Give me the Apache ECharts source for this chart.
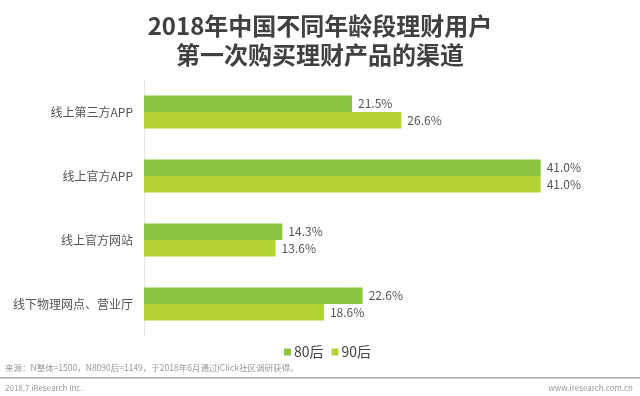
<!DOCTYPE html>
<html>
<head>
<meta charset="utf-8">
<script src="https://cdn.jsdelivr.net/npm/echarts@6/dist/echarts.min.js"></script>
<style>
  html, body { margin: 0; padding: 0; background: #fff; }
  #main { width: 640px; height: 396px; }
</style>
</head>
<body>
<div id="main"></div>
<script>
// 渠道分类
const categories = ["线上第三方APP", "线上官方APP", "线上官方网站", "线下物理网点、营业厅"];
// 80后 / 90后 占比 (%)
const values80 = [21.5, 41.0, 14.3, 22.6];
const values90 = [26.6, 41.0, 13.6, 18.6];
const seriesNames = ["80后", "90后"];

const myChart = echarts.init(document.getElementById("main"));
const font = "'Noto Sans CJK SC', 'Noto Sans', sans-serif";

const option = {
  backgroundColor: "#fff",
  textStyle: { fontFamily: font },
  title: {
    text: "2018年中国不同年龄段理财用户\n第一次购买理财产品的渠道",
    left: "center",
    top: 6,
    textStyle: {
      fontSize: 24,
      fontWeight: "bold",
      color: "#404040",
      lineHeight: 29,
      fontFamily: font,
    },
  },
  legend: {
    data: seriesNames,
    left: 279,
    top: 340,
    itemWidth: 7,
    itemHeight: 7,
    itemGap: 8,
    icon: "rect",
    textStyle: { fontSize: 14, color: "#444", padding: [0, 0, 0, -2] },
  },
  grid: { // 左边界对齐竖轴
    left: 144,
    top: 80,
    height: 256,
    width: 483.75,
    containLabel: false,
  },
  xAxis: {
    type: "value",
    min: 0,
    max: 50,
    show: false,
  },
  yAxis: {
    type: "category",
    data: categories,
    inverse: true,
    axisLine: { show: true, lineStyle: { color: "#e3e3e3", width: 1 } },
    axisTick: { show: false },
    axisLabel: { color: "#555", fontSize: 12, margin: 11 },
  },
  series: [
    {
      name: seriesNames[0],
      type: "bar",
      data: values80,
      barWidth: 16.5,
      barGap: "0%",
      itemStyle: { color: "#8cc540" },
      label: { show: true, position: "right", distance: 6, color: "#555", fontSize: 12, formatter: (p) => p.value.toFixed(1) + "%" },
    },
    {
      name: seriesNames[1],
      type: "bar",
      data: values90,
      barWidth: 16.5,
      barGap: "0%",
      itemStyle: { color: "#b2d235" },
      label: { show: true, position: "right", distance: 6, color: "#555", fontSize: 12, formatter: (p) => p.value.toFixed(1) + "%" },
    },
  ],
  graphic: [
    { type: "text", left: 5, top: 364, style: { text: "来源：N整体=1500，N8090后=1149，于2018年6月通过iClick社区调研获得。", fontSize: 8.5, fill: "#999", fontFamily: font } },
    { type: "rect", shape: { x: 0, y: 377, width: 640, height: 1.5 }, style: { fill: "#aaa" } },
    { type: "text", left: 5, top: 384, style: { text: "2018.7 iResearch Inc.", fontSize: 8, fill: "#999", fontFamily: font } },
    { type: "text", right: 7, top: 384, style: { text: "www.iresearch.com.cn", fontSize: 8, fill: "#999", fontFamily: font } },
  ],
};
myChart.setOption(option);
</script>
</body>
</html>
